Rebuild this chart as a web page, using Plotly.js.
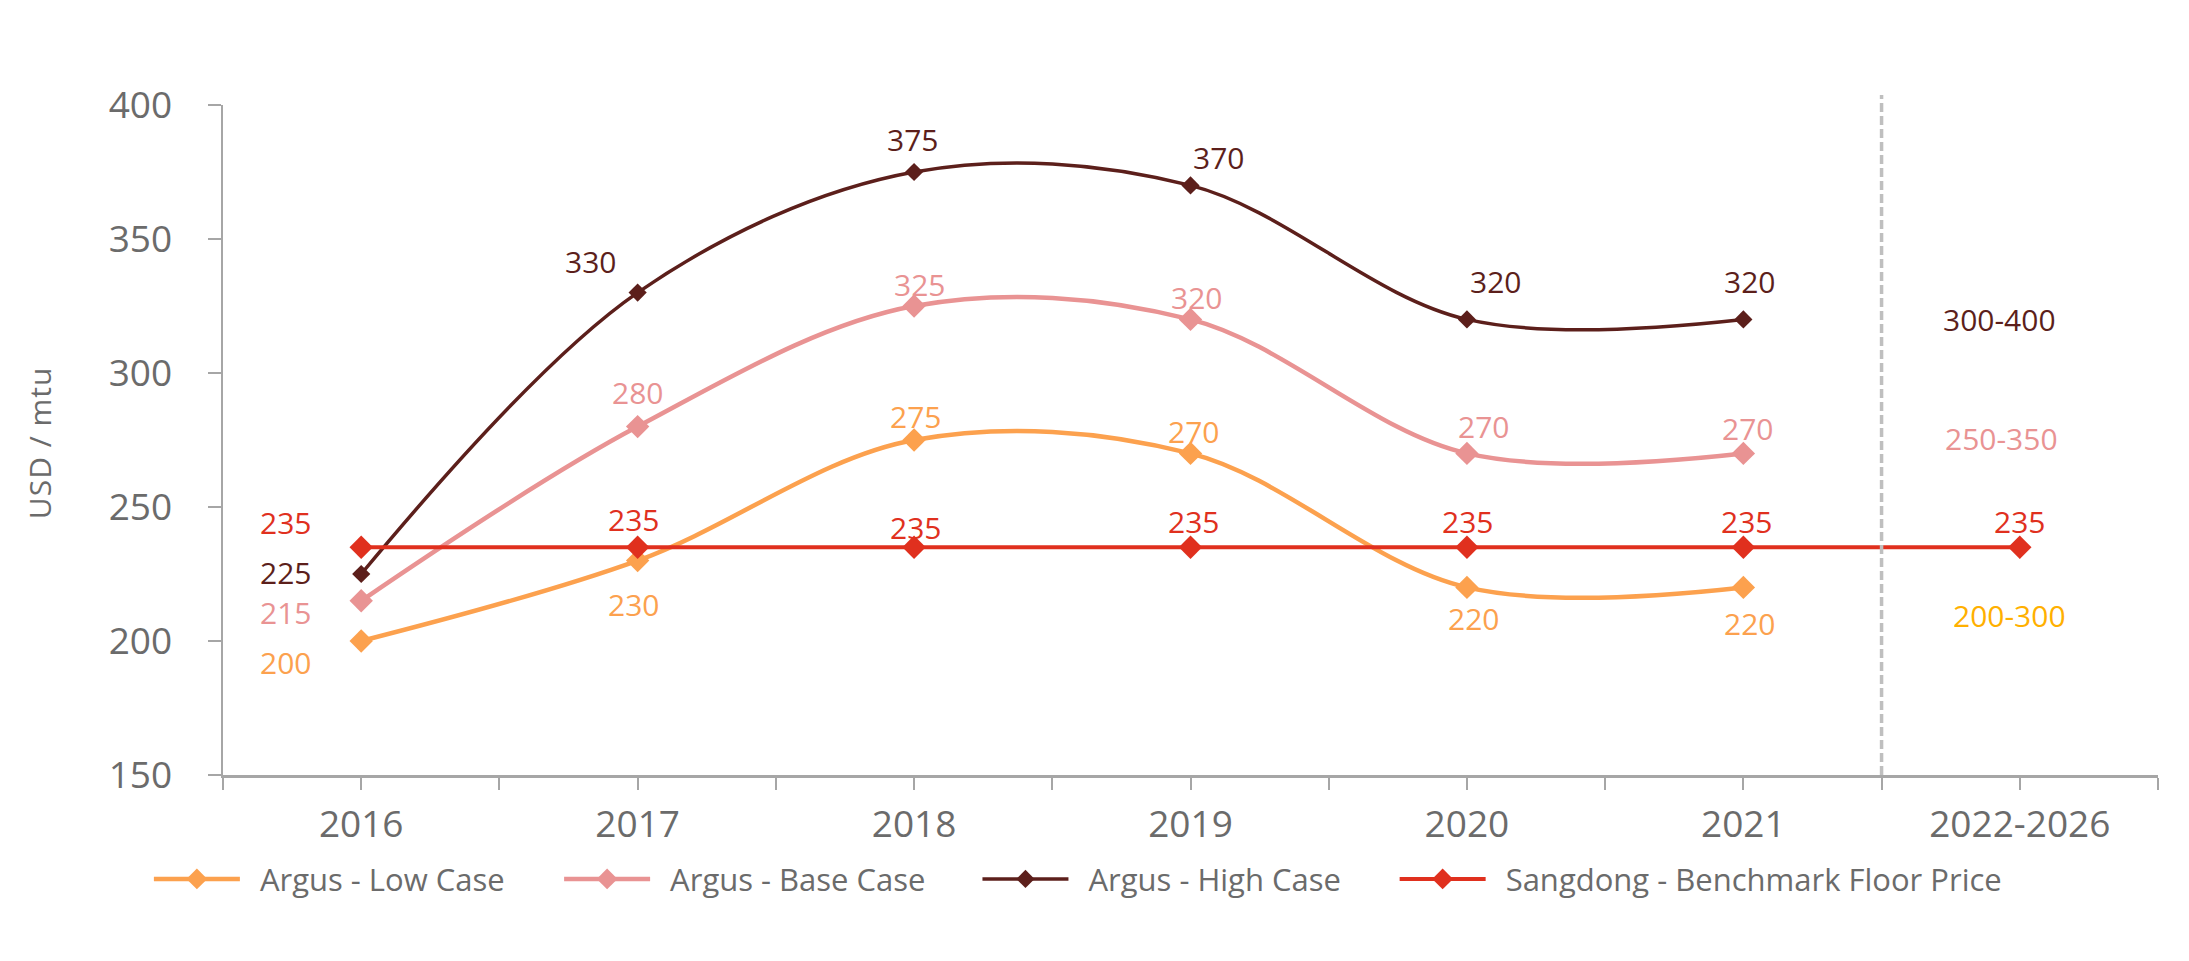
<!DOCTYPE html>
<html><head><meta charset="utf-8">
<script src="https://cdn.plot.ly/plotly-3.0.1.min.js"></script>
<style>html,body{margin:0;padding:0;background:#fff;}#chart{width:2189px;height:961px;}</style>
</head><body><div id="chart"></div>
<script>
const categories = ["2016","2017","2018","2019","2020","2021","2022-2026"];
const lowCase   = [200, 230, 275, 270, 220, 220];
const baseCase  = [215, 280, 325, 320, 270, 270];
const highCase  = [225, 330, 375, 370, 320, 320];
const benchmark = [235, 235, 235, 235, 235, 235, 235];
const seriesNames = ["Argus - Low Case", "Argus - Base Case", "Argus - High Case", "Sangdong - Benchmark Floor Price"];
const rangeLabels = ["200-300", "250-350", "300-400"];
const rangeLabelY = [209.5, 275.6, 319.8];
const yTicks = [150, 200, 250, 300, 350, 400];
const yTitle = "USD / mtu";

const colors = {low:"#FCA14E", base:"#E99393", high:"#5C1F1B", bench:"#E0301E", range:["#FFB000","#E99393","#5C1F1B"]};
const textGray = "#6B6B6B";
const axisGray = "#A6A6A6";
const numFont = "Open Sans, DejaVu Sans, sans-serif";

// label offsets (px, +y = down) per point
const offLow   = [[-76,21],[-4,44],[1,-24],[3,-22],[7,31],[6,36]];
const offBase  = [[-76,12],[0,-34],[5,-22],[6,-22],[17,-27],[4,-25]];
const offHigh  = [[-76,-2],[-47,-31],[-2,-33],[28,-28],[29,-38],[6,-38]];
const offBench = [[-76,-25],[-4,-28],[1,-20],[3,-26],[1,-26],[3,-26],[0,-26]];

const idx = categories.map((c,i)=>i);

function trace(vals, name, color, width, msize, shape, legendId){
  return {x: idx.slice(0, vals.length), y: vals, name: name, type:"scatter", mode:"lines+markers",
    line:{color:color, width:width, shape:shape, smoothing:1},
    marker:{symbol:"diamond", size:msize, color:color, line:{width:0}}, hoverinfo:"skip", legend: legendId};
}
const data = [
  trace(lowCase, seriesNames[0], colors.low, 4.5, 18, "spline", "legend"),
  trace(baseCase, seriesNames[1], colors.base, 4.5, 18, "spline", "legend2"),
  trace(highCase, seriesNames[2], colors.high, 3.5, 14, "spline", "legend3"),
  trace(benchmark, seriesNames[3], colors.bench, 4, 18, "linear", "legend4")
];

const annotations = [];
function addLabels(vals, offs, color){
  vals.forEach((v,i)=>{
    annotations.push({x: idx[i], y: v, xref:"x", yref:"y", text: String(v), showarrow:false,
      xshift: offs[i][0], yshift: -offs[i][1], font:{family:numFont, size:30, color:color}});
  });
}
addLabels(lowCase, offLow, colors.low);
addLabels(baseCase, offBase, colors.base);
addLabels(highCase, offHigh, colors.high);
addLabels(benchmark, offBench, colors.bench);
const rangeShift = [-10, -18, -20];
rangeLabels.forEach((t,i)=>{
  annotations.push({x: idx[6], y: rangeLabelY[i], xref:"x", yref:"y", text:t, showarrow:false,
    xshift: rangeShift[i], font:{family:numFont, size:30, color:colors.range[i]}});
});
// y-axis title
annotations.push({x:-0.0946, y:0.496, xref:"paper", yref:"paper", text:yTitle, showarrow:false, textangle:-90,
  xanchor:"center", yanchor:"middle", font:{family:numFont, size:30, color:textGray}});

function leg(x){
  return {orientation:"h", x:x, xanchor:"left", y:-0.1557, yanchor:"middle", itemwidth:101,
    font:{family:numFont, size:31, color:textGray}, bgcolor:"rgba(0,0,0,0)"};
}

const layout = {
  width:2189, height:961,
  margin:{l:223, r:31, t:105, b:186},
  paper_bgcolor:"#fff", plot_bgcolor:"#fff",
  showlegend:true,
  legend: leg(-0.0383), legend2: leg(0.1737), legend3: leg(0.3899), legend4: leg(0.6055),
  xaxis:{type:"linear", range:[-0.5,6.5], tickmode:"array", tickvals:idx, ticktext:categories,
    ticks:"outside", ticklen:12, tickwidth:2, tickcolor:axisGray,
    minor:{tick0:-0.5, dtick:1, ticks:"outside", ticklen:12, tickwidth:2, tickcolor:axisGray, showgrid:false},
    showline:true, linecolor:axisGray, linewidth:2.5, showgrid:false, zeroline:false,
    tickfont:{family:numFont, size:37, color:textGray}, ticklabelstandoff:3},
  yaxis:{range:[150,400], tickvals:yTicks, ticks:"outside", ticklen:13, tickwidth:2, tickcolor:axisGray,
    showline:true, linecolor:axisGray, linewidth:2.5, showgrid:false, zeroline:false,
    tickfont:{family:numFont, size:37, color:textGray}, ticklabelstandoff:28},
  shapes:[{type:"line", xref:"x", yref:"paper", x0:5.5, x1:5.5, y0:0, y1:1.015,
    line:{color:"#BFBFBF", width:3.5, dash:"9px,4px"}}],
  annotations: annotations
};
Plotly.newPlot("chart", data, layout, {staticPlot:true, displayModeBar:false}).then(gd=>{
  gd.querySelectorAll('.legendlines path').forEach(p=>p.setAttribute('d','M5,0h86'));
  gd.querySelectorAll('.legendpoints path.scatterpts').forEach(p=>p.setAttribute('transform','translate(48,0)'));
  gd.querySelectorAll('.legend [clip-path]').forEach(e=>e.removeAttribute('clip-path'));
  gd.querySelectorAll('.annotation-text').forEach(t=>{
    if (t.textContent === yTitle) t.style.letterSpacing = '1px';
  });
});
</script></body></html>
